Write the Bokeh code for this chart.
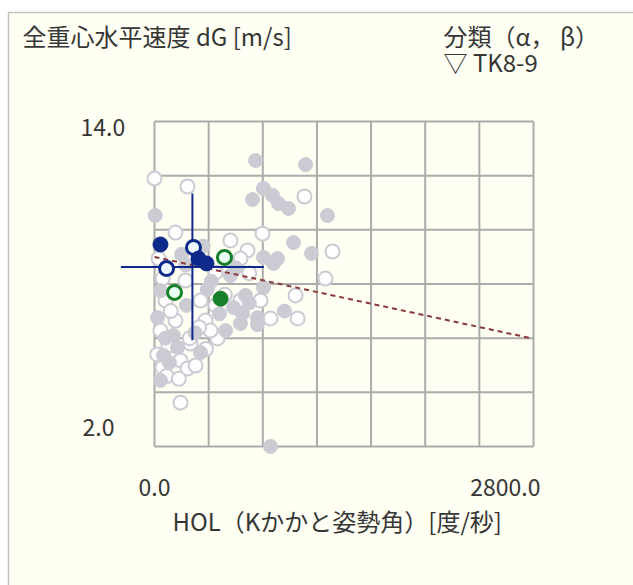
from bokeh.plotting import figure
from bokeh.models import Range1d, Label
from bokeh.embed import file_html
from bokeh.resources import INLINE

# ---------------- data ----------------
x_ticks = [0, 400, 800, 1200, 1600, 2000, 2400, 2800]
y_ticks = [2, 4, 6, 8, 10, 12, 14]
x_tick_labels = ["0.0", "2800.0"]
y_tick_labels = ["14.0", "2.0"]

gray_filled_x = [746, 1116, 805, 872, 724, 916, 990, 1278, 5, 1027, 1160, 805, 909, 857,
                 66, 340, 879, 584, 635, 22, 170, 761, 805, 360, 236, 525, 672, 44, 561, 44,
                 600, 700, 480, 140, 300, 420, 230, 960, 110, 390, 650, 760, 540, 200, 80]
gray_filled_y = [12.56, 12.41, 11.53, 11.27, 11.12, 10.97, 10.79, 10.53, 10.53, 9.53, 9.13, 8.98, 8.94, 2.0,
                 5.36, 5.47, 8.76, 7.13, 6.54, 6.76, 5.66, 6.76, 7.87, 9.40, 7.21, 6.28, 7.58, 7.76, 8.31, 4.44,
                 8.60, 7.30, 6.90, 6.10, 6.20, 8.10, 8.70, 7.00, 5.10, 7.80, 6.90, 6.50, 8.90, 9.10, 6.00]

gray_open_x = [0, 244, 1108, 798, 1315, 1263, 1042, 1057, 857, 192, 59, 192, 244, 266, 465, 687,
               44, 155, 377, 635, 451, 81, 783, 340, 229, 635, 451, 30, 155, 561, 414, 303, 103,
               120, 260, 520, 700, 20, 380, 90, 330, 180, 60]
gray_open_y = [11.90, 11.60, 11.23, 9.86, 9.20, 8.20, 7.58, 6.73, 6.73, 3.62, 4.92, 5.18, 4.88, 5.80, 5.99, 9.24,
               6.28, 6.65, 6.65, 7.39, 7.21, 7.39, 7.39, 7.39, 8.13, 8.94, 8.42, 8.94, 9.90, 9.61, 6.28, 4.99, 5.73,
               7.00, 6.00, 7.60, 8.40, 5.40, 5.60, 4.60, 6.40, 4.50, 8.20]

navy_filled_x = [44, 325, 384]
navy_filled_y = [9.46, 8.94, 8.76]
navy_open_x = [288, 89]
navy_open_y = [9.35, 8.57]
green_filled_x = [488]
green_filled_y = [7.46]
green_open_x = [517, 148]
green_open_y = [8.98, 7.69]

mean_x, sd_x = 280, 528
mean_y, sd_y = 8.63, 2.71

reg_x = [0, 2780]
reg_y = [9.0, 6.0]

# ---------------- layout ----------------
W, H = 633, 585
FL, FR, FT, FB = 154, 533, 121, 446          # pixel box of the grid
sx = (FR - FL) / (x_ticks[-1] - x_ticks[0])
sy = (FB - FT) / (y_ticks[-1] - y_ticks[0])
X0 = x_ticks[0] - FL / sx
X1 = X0 + W / sx
Y1 = y_ticks[-1] + FT / sy
Y0 = Y1 - H / sy


def fx(px):
    return X0 + px / sx


def fy(py):
    return Y1 - py / sy


FONT = "Noto Sans CJK JP"
TXT = "#363636"
CREAM = "#fffff4"
GRID = "#ababab"
GRAY = "#cbcbd3"
NAVY = "#0d2a8a"
GREEN = "#17802a"

p = figure(width=W, height=H, x_range=Range1d(X0, X1), y_range=Range1d(Y0, Y1),
           x_axis_type=None, y_axis_type=None, toolbar_location=None,
           output_backend="svg", min_border=0, outline_line_color=None,
           background_fill_color="white", border_fill_color="white")

# panel
p.quad(left=[fx(8)], right=[fx(W + 50)], top=[fy(12)], bottom=[fy(H + 50)],
       fill_color=CREAM, line_color="#c4c4c4", line_width=1.5)

# grid
p.segment(x0=x_ticks, x1=x_ticks, y0=[y_ticks[0]] * len(x_ticks), y1=[y_ticks[-1]] * len(x_ticks),
          line_color=GRID, line_width=2)
p.segment(x0=[x_ticks[0]] * len(y_ticks), x1=[x_ticks[-1]] * len(y_ticks), y0=y_ticks, y1=y_ticks,
          line_color=GRID, line_width=2)

# gray population
p.scatter(gray_open_x, gray_open_y, size=14, fill_color="white", line_color=GRAY, line_width=2)
p.scatter(gray_filled_x, gray_filled_y, size=14, fill_color=GRAY, line_color=GRAY, line_width=1)

# regression line
p.line(reg_x, reg_y, line_color="#8a3a3a", line_width=2, line_dash="5 4")

# mean +- sd cross
p.segment(x0=[mean_x - sd_x, mean_x], x1=[mean_x + sd_x, mean_x],
          y0=[mean_y, mean_y - sd_y], y1=[mean_y, mean_y + sd_y],
          line_color=NAVY, line_width=2)

# highlighted
p.scatter(navy_open_x, navy_open_y, size=14, fill_color="#eef8ff", line_color=NAVY, line_width=3)
p.scatter(navy_filled_x, navy_filled_y, size=15, fill_color=NAVY, line_color=NAVY, line_width=1)
p.scatter(green_open_x, green_open_y, size=14, fill_color="#eafff4", line_color=GREEN, line_width=3)
p.scatter(green_filled_x, green_filled_y, size=15, fill_color=GREEN, line_color=GREEN, line_width=1)


def lab(x, y, text, align="left", size="24px"):
    p.add_layout(Label(x=x, y=y, text=text, text_font=FONT, text_font_size=size,
                       text_color=TXT, text_align=align, text_baseline="middle"))


lab(fx(22), fy(35), "全重心水平速度 dG [m/s]")
lab(fx(443), fy(35), "分類（α， β）")
lab(fx(443), fy(61), "▽ TK8-9")
lab(fx(80), fy(127), y_tick_labels[0], size="23px")
lab(fx(82), fy(427), y_tick_labels[1], size="23px")
lab(x_ticks[0], fy(487), x_tick_labels[0], "center", size="23px")
lab(x_ticks[-1] + 7 / sx, fy(487), x_tick_labels[1], "right", size="23px")
lab(fx(172), fy(520), "HOL（Kかかと姿勢角）[度/秒]")

open("out.html", "w").write(file_html(p, INLINE))
